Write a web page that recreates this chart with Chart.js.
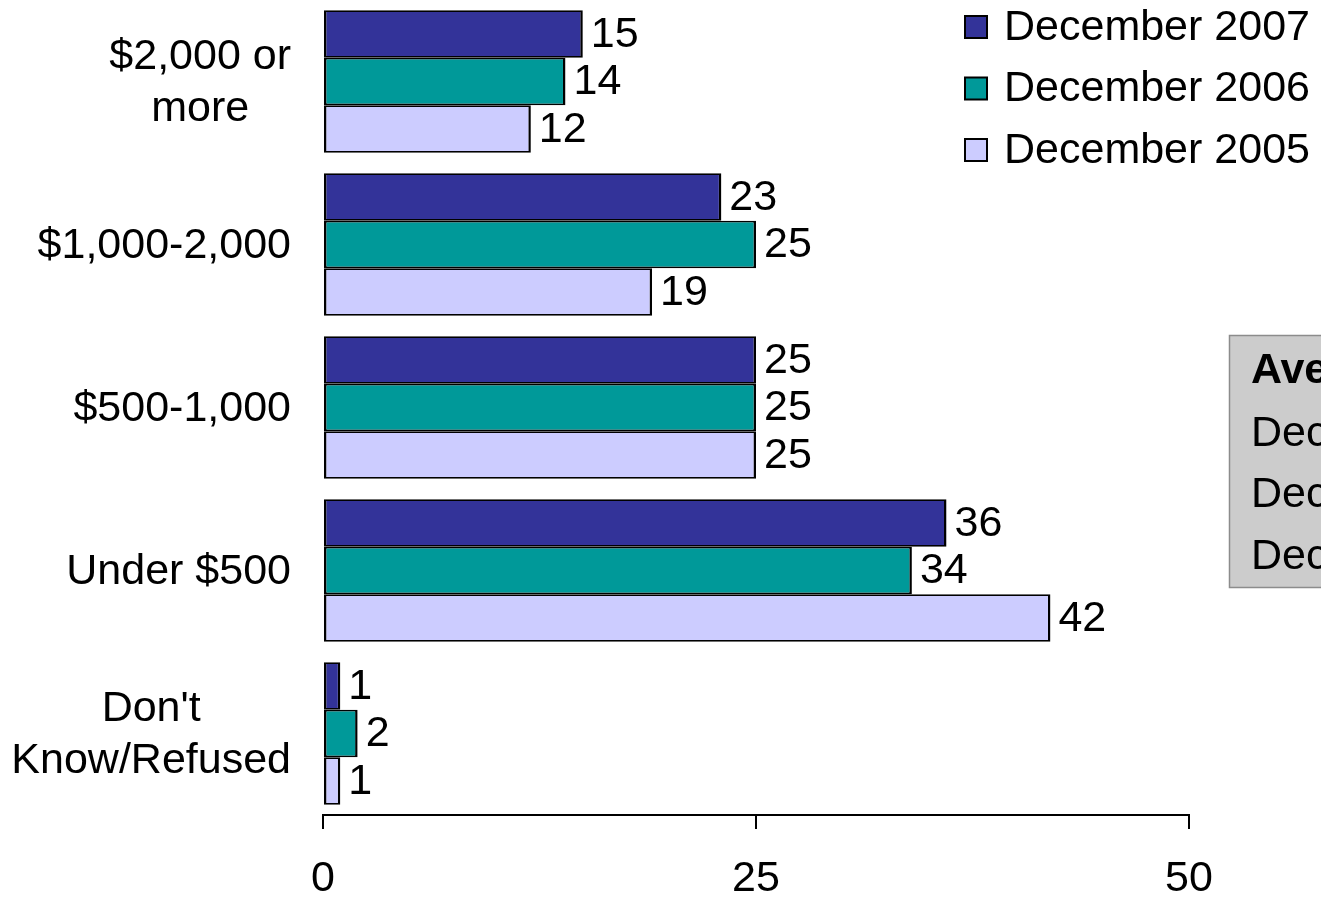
<!DOCTYPE html>
<html>
<head>
<meta charset="utf-8">
<script src="https://cdn.jsdelivr.net/npm/chart.js@4"></script>
<style>
  html, body { margin: 0; padding: 0; background: #ffffff; overflow: hidden; }
  canvas { display: block; }
</style>
</head>
<body>
<canvas id="chart" width="1321" height="897"></canvas>
<script>
// Monthly spending brackets, share of respondents (%)
const categories = [["$2,000 or", "more"], "$1,000-2,000", "$500-1,000", "Under $500", ["Don't", "Know/Refused"]];
const seriesNames = ["December 2007", "December 2006", "December 2005"];
const dec2007 = [15, 23, 25, 36, 1];
const dec2006 = [14, 25, 25, 34, 2];
const dec2005 = [12, 19, 25, 42, 1];
const xTicks = [0, 25, 50];
const averageTitle = "Average";
const averageLines = ["December 2007", "December 2006", "December 2005"];

const colors = ["#333399", "#009999", "#CCCCFF"];
const FONT = "'Liberation Sans', Arial, Helvetica, sans-serif";
const SIZE = 43;

// Category labels: each block right-aligned to the axis, lines centred inside the block
const categoryLabels = {
  id: 'categoryLabels',
  afterDraw(chart) {
    const ctx = chart.ctx;
    const y = chart.scales.y;
    const right = 291;
    const lineGap = 52;
    ctx.save();
    ctx.font = SIZE + 'px ' + FONT;
    ctx.fillStyle = '#000';
    ctx.textBaseline = 'middle';
    ctx.textAlign = 'center';
    categories.forEach((cat, i) => {
      const lines = Array.isArray(cat) ? cat : [cat];
      const w = Math.max(...lines.map(l => ctx.measureText(l).width));
      const cx = right - w / 2;
      const cy = y.getPixelForValue(i);
      const start = cy - (lines.length - 1) * lineGap / 2;
      lines.forEach((l, k) => ctx.fillText(l, cx, start + k * lineGap + 2));
    });
    ctx.restore();
  }
};

// Value labels at the end of every bar
const valueLabels = {
  id: 'valueLabels',
  afterDatasetsDraw(chart) {
    const ctx = chart.ctx;
    ctx.save();
    ctx.font = SIZE + 'px ' + FONT;
    ctx.fillStyle = '#000';
    ctx.textBaseline = 'middle';
    ctx.textAlign = 'left';
    chart.data.datasets.forEach((ds, di) => {
      chart.getDatasetMeta(di).data.forEach((bar, i) => {
        ctx.fillText(String(ds.data[i]), bar.x + 8, bar.y + 1);
      });
    });
    ctx.restore();
  }
};

// Legend stacked in the upper right corner
const cornerLegend = {
  id: 'cornerLegend',
  afterDraw(chart) {
    const ctx = chart.ctx;
    ctx.save();
    ctx.font = SIZE + 'px ' + FONT;
    ctx.textBaseline = 'middle';
    ctx.textAlign = 'left';
    chart.data.datasets.forEach((ds, i) => {
      const cy = 27 + i * 61.5;
      ctx.fillStyle = '#000';
      ctx.fillRect(964, cy - 12, 24, 24);
      ctx.fillStyle = ds.backgroundColor;
      ctx.fillRect(966, cy - 10, 20, 20);
      ctx.fillStyle = '#000';
      ctx.fillText(ds.label, 1004, cy + 1);
    });
    ctx.restore();
  }
};

// Grey box holding the average spending figures
const averageBox = {
  id: 'averageBox',
  afterDraw(chart) {
    const ctx = chart.ctx;
    ctx.save();
    ctx.fillStyle = '#CCCCCC';
    ctx.fillRect(1229, 335, 120, 253);
    ctx.strokeStyle = '#8C8C8C';
    ctx.lineWidth = 1.5;
    ctx.strokeRect(1229.5, 335.5, 120, 252);
    ctx.fillStyle = '#000';
    ctx.textBaseline = 'middle';
    ctx.textAlign = 'left';
    ctx.font = 'bold ' + SIZE + 'px ' + FONT;
    ctx.fillText(averageTitle, 1251, 371);
    ctx.font = SIZE + 'px ' + FONT;
    averageLines.forEach((t, i) => ctx.fillText(t, 1251, 434 + i * 61.5));
    ctx.restore();
  }
};

const dataSeries = [dec2007, dec2006, dec2005];

new Chart(document.getElementById('chart'), {
  type: 'bar',
  data: {
    labels: categories.map(c => Array.isArray(c) ? c.join(' ') : c),
    datasets: seriesNames.map((name, i) => ({
      label: name,
      data: dataSeries[i],
      backgroundColor: colors[i],
      borderColor: '#000000',
      borderWidth: { top: 1.75, bottom: 1.75, left: 2.5, right: 2.5 },
      borderSkipped: false,
      inflateAmount: 0,
      categoryPercentage: 0.875,
      barPercentage: 1.0
    }))
  },
  options: {
    indexAxis: 'y',
    responsive: false,
    animation: false,
    layout: { padding: { left: 323, right: 132, top: 0, bottom: 0 } },
    plugins: {
      legend: { display: false },
      tooltip: { enabled: false }
    },
    scales: {
      y: {
        display: false
      },
      x: {
        min: xTicks[0],
        max: xTicks[xTicks.length - 1],
        afterBuildTicks(scale) {
          scale.ticks = xTicks.map(v => ({ value: v }));
        },
        afterFit(scale) { scale.height = 82; },
        grid: {
          drawOnChartArea: false,
          drawTicks: true,
          tickLength: 14,
          color: '#000000',
          lineWidth: 2
        },
        border: { display: true, color: '#000000', width: 2 },
        ticks: {
          color: '#000000',
          font: { family: FONT, size: SIZE },
          padding: 24,
          maxRotation: 0
        }
      }
    }
  },
  plugins: [categoryLabels, valueLabels, cornerLegend, averageBox]
});
</script>
</body>
</html>
